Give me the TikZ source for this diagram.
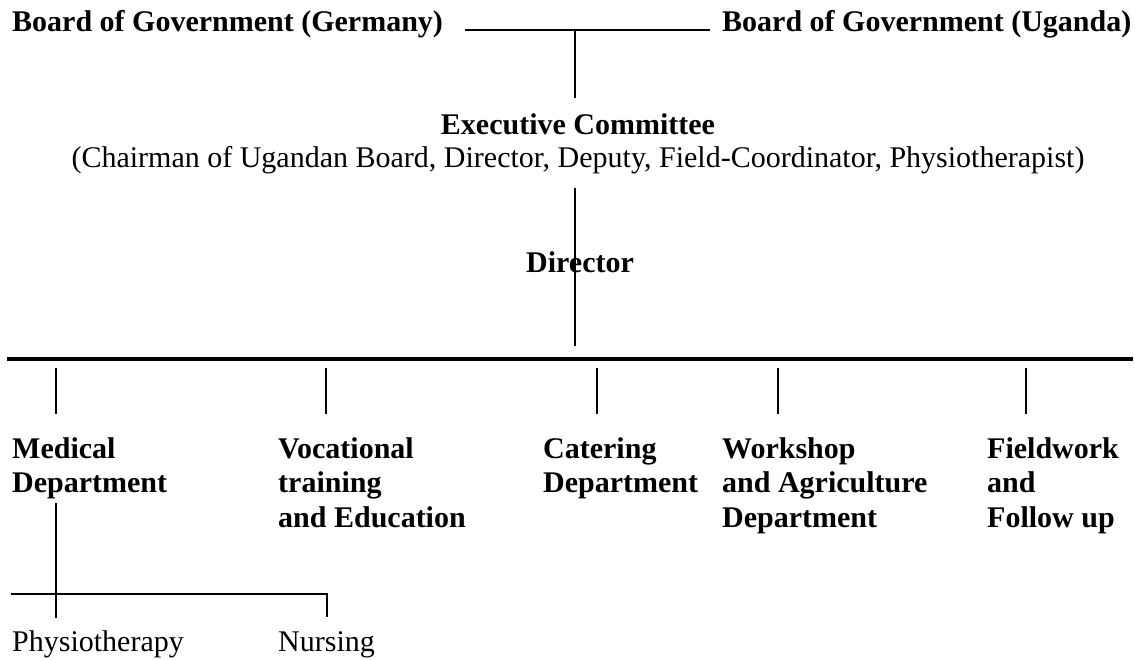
\documentclass[tikz,border=0pt]{standalone}
\usepackage{fontspec}
\setmainfont{Liberation Serif}
\usetikzlibrary{calc}

\begin{document}
\begin{tikzpicture}[x=1pt,y=-1pt,
  lbl/.style={inner sep=0pt,anchor=base west,font=\fontsize{30}{34.5}\selectfont},
  head/.style={lbl,font=\fontsize{30}{34.5}\selectfont\bfseries},
  dept/.style={head,align=left,anchor=north west},
  thin/.style={line width=1.1pt}]
\useasboundingbox (0,0) rectangle (1135,660);

% boards and committee
\node[head] (bgg) at (12,32) {Board of Government (Germany)};
\node[head] (bgu) at (722,32) {Board of Government (Uganda)};
\node[head,anchor=base] (exec) at (578,135) {Executive Committee};
\node[lbl,anchor=base] (members) at (578,168) {(Chairman of Ugandan Board, Director, Deputy, Field-Coordinator, Physiotherapist)};
\node[head,anchor=base] (dir) at (580,273) {Director};

\coordinate (top) at (575,30);
\coordinate (busl) at (7,359);
\coordinate (busr) at (1133,359);

\draw[thin] ($(bgg.base east)+(22,-2)$) -- ($(bgu.base west)+(-12,-2)$);
\draw[thin] (top) -- ($(top |- exec.north)+(0,-16)$);
\draw[thin] ($(top |- members.south)+(0,13)$) -- ($(top |- busl)+(0,-13)$);
\draw[line width=4pt] (busl) -- (busr);

% departments
\node[dept] (med) at (12,437) {Medical\\Department};
\node[dept] (voc) at (278,437) {Vocational\\training\\and Education};
\node[dept] (cat) at (543,437) {Catering\\Department};
\node[dept] (wsh) at (722,437) {Workshop\\and Agriculture\\Department};
\node[dept] (fld) at (987,437) {Fieldwork\\and\\Follow up};

\foreach \n/\dx in {med/44,voc/48,cat/54,wsh/56,fld/39}
  \draw[thin] ($(busl -| \n.north west)+(\dx,9)$) -- ++(0,46);

% medical sub units
\node[lbl] (phys) at (12,651) {Physiotherapy};
\node[lbl] (nurs) at (278,651) {Nursing};

\draw[thin] ($(phys.base west)+(44,-148)$) -- ++(0,115);
\draw[thin] ($(phys.base west)+(-1,-57)$) -- ($(nurs.base west)+(49,-57)$) -- ++(0,23);
\end{tikzpicture}
\end{document}
